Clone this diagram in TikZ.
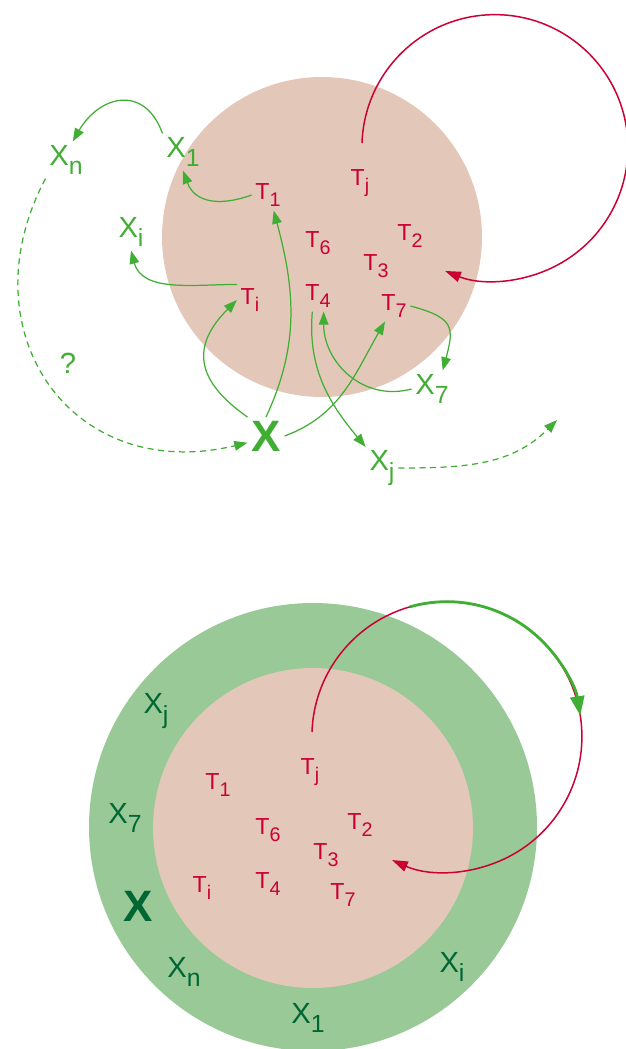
\documentclass[tikz,border=0pt]{standalone}
\usepackage{fontspec}
\setmainfont{Liberation Sans}
\usetikzlibrary{arrows.meta}

\definecolor{tred}{RGB}{204,0,51}
\definecolor{xgreen}{RGB}{63,174,50}
\definecolor{xdark}{RGB}{0,102,51}
\definecolor{corefill}{RGB}{227,200,186}
\definecolor{ringfill}{RGB}{152,201,151}

\newcommand{\withsub}[2]{#1\raisebox{-0.32em}{\scalebox{0.85}{#2}}}

\begin{document}
\begin{tikzpicture}[x=0.02cm, y=0.02cm,
    tlab/.style={text=tred, inner sep=2pt, font=\fontsize{13.2}{15}\selectfont},
    xlab/.style={text=xgreen, inner sep=2pt, font=\fontsize{16.6}{19}\selectfont},
    xbig/.style={text=xgreen, inner sep=2pt, font=\fontsize{25}{28}\selectfont\bfseries},
    flow/.style={draw=xgreen, line width=0.7pt, -{Triangle[length=7.5pt,width=5.5pt]}},
    guess/.style={flow, dash pattern=on 3.5pt off 2.5pt},
    tloop/.style={draw=tred, line width=0.85pt, -{Triangle[length=9pt,width=6pt]}},
    ringarrow/.style={draw=xgreen, line width=1.6pt, -{Triangle[length=11pt,width=8pt]}}]
  \useasboundingbox (0,0) rectangle (626,-1049);

  % upper picture
  \fill[corefill] (322,-237) circle (160);

  \node (tj) at (360,-183) [tlab] {\withsub{T}{j}};
  \node (t1) at (268,-195) [tlab] {\withsub{T}{1}};
  \node (t6) at (318,-243) [tlab] {\withsub{T}{6}};
  \node (t2) at (410,-236) [tlab] {\withsub{T}{2}};
  \node (t3) at (376,-266) [tlab] {\withsub{T}{3}};
  \node (t4) at (318,-296) [tlab] {\withsub{T}{4}};
  \node (t7) at (394,-306) [tlab] {\withsub{T}{7}};
  \node (ti) at (250,-300) [tlab] {\withsub{T}{i}};

  \node (x1) at (183,-152) [xlab] {\withsub{X}{1}};
  \node (xn) at (66,-160) [xlab] {\withsub{X}{n}};
  \node (xi) at (131,-232) [xlab] {\withsub{X}{i}};
  \node (q) at (68,-363) [xlab] {?};
  \node (x) at (266,-436) [xbig] {X};
  \node (x7) at (432,-389) [xlab] {\withsub{X}{7}};
  \node (xj) at (382,-468) [xlab] {\withsub{X}{j}};
  \coordinate (xjend) at (557,-420);
  \coordinate (tjtop) at (362,-143);

  \draw[tloop] (tjtop) arc[start angle=178, end angle=-112, radius=133];

  \draw[flow] (x1.north west) to[out=110, in=60, looseness=1.5] (xn.70);
  \draw[flow] (t1.west) to[out=200, in=-70, looseness=1.2] (x1.south);
  \draw[flow] (ti.north west) to[out=180, in=-75] (xi.south);
  \draw[flow] (x.north west) to[out=145, in=225, looseness=1.4] (ti.west);
  \draw[flow] (x.north) to[out=65, in=-75] (t1.-70);
  \draw[flow] (x.east) to[out=20, in=-120] (t7.-120);
  \draw[flow] (t4.-110) to[out=-95, in=130] (xj.north west);
  \draw[flow] (x7.west) to[out=195, in=-90, looseness=1.1] (t4.-70);
  \draw[flow] (t7.east) to[out=-15, in=75, looseness=1.6] (x7.60);
  \draw[guess] (xj.east) to[out=0, in=-135] (xjend);
  \draw[guess] (xn.south west) .. controls (-35,-330) and (70,-485) .. (x.200);

  % lower picture
  \fill[ringfill] (313,-827) circle (224);
  \fill[corefill] (313,-828) circle (160);

  \node (btj) at (310,-772) [tlab] {\withsub{T}{j}};
  \node (bt1) at (218,-785) [tlab] {\withsub{T}{1}};
  \node (bt6) at (268,-830) [tlab] {\withsub{T}{6}};
  \node (bt2) at (360,-825) [tlab] {\withsub{T}{2}};
  \node (bt3) at (326,-855) [tlab] {\withsub{T}{3}};
  \node (bt4) at (268,-884) [tlab] {\withsub{T}{4}};
  \node (bt7) at (343,-895) [tlab] {\withsub{T}{7}};
  \node (bti) at (202,-888) [tlab] {\withsub{T}{i}};

  \node (bxj) at (156,-711) [xlab, text=xdark] {\withsub{X}{j}};
  \node (bx7) at (125,-818) [xlab, text=xdark] {\withsub{X}{7}};
  \node (bx) at (138,-906) [xbig, text=xdark] {X};
  \node (bxn) at (184,-972) [xlab, text=xdark] {\withsub{X}{n}};
  \node (bx1) at (308,-1018) [xlab, text=xdark] {\withsub{X}{1}};
  \node (bxi) at (452,-967) [xlab, text=xdark] {\withsub{X}{i}};
  \coordinate (btjtop) at (312,-732);
  \coordinate (ringtop) at (409.7,-606.9);

  \draw[tloop] (btjtop) arc[start angle=178, end angle=-114, radius=135];
  \draw[ringarrow] (ringtop) arc[start angle=106, end angle=9, radius=135];
\end{tikzpicture}
\end{document}
